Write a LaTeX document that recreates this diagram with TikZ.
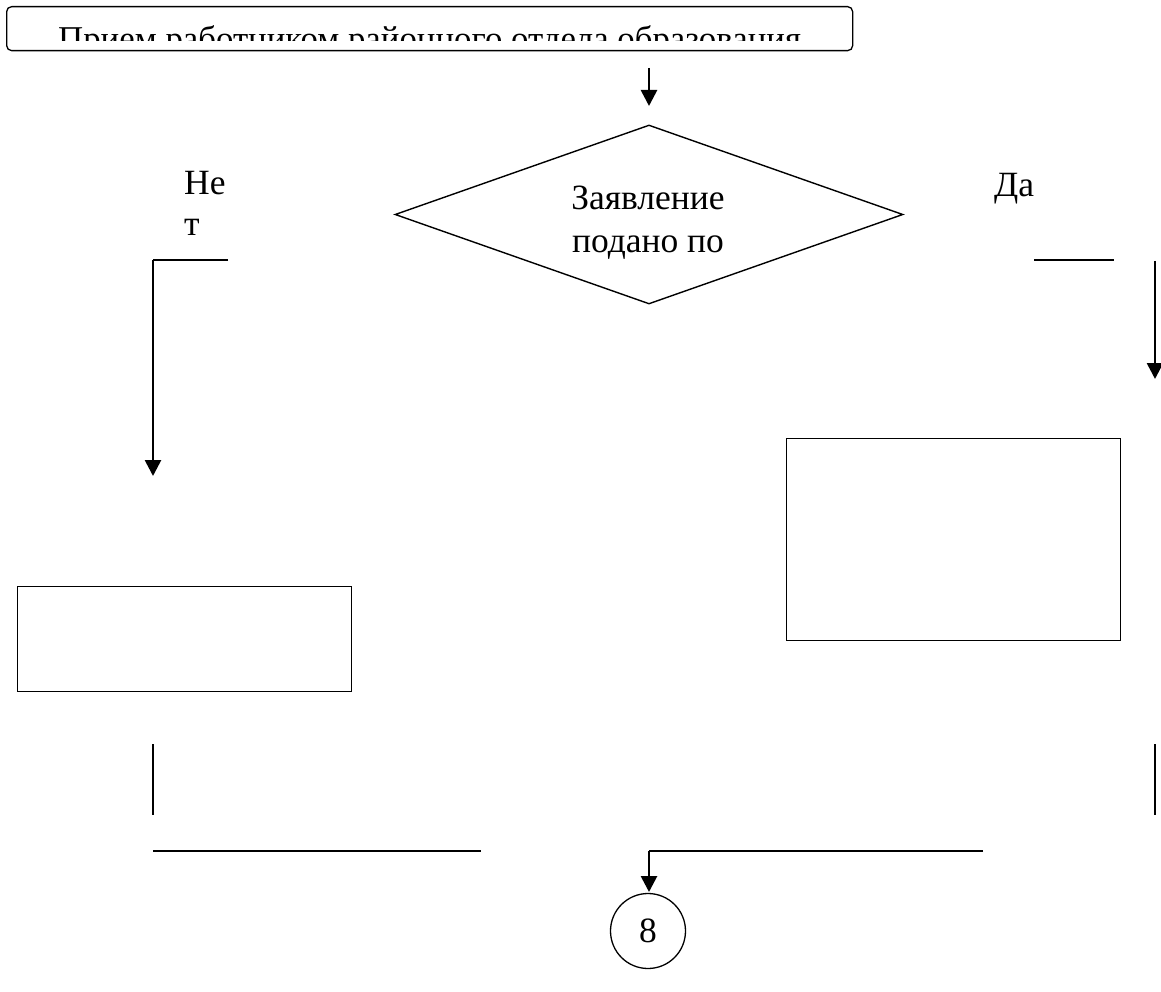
\documentclass[tikz,border=0pt]{standalone}
\usepackage{fontspec}
\setmainfont{Liberation Serif}
\usetikzlibrary{shapes.geometric,arrows.meta}
\begin{document}
\begin{tikzpicture}[x=1pt,y=-1pt,
  thin line/.style={line width=1.3pt},
  arrowline/.style={line width=2.7pt,-{Triangle[width=16pt,length=16pt]}},
  boxnode/.style={draw,line width=1.3pt,inner sep=0pt},
  lbl/.style={inner sep=0pt,font=\fontsize{35.5}{43}\selectfont},
  every node/.style={font=\fontsize{35.5}{43}\selectfont}]
\useasboundingbox (0,0) rectangle (1161,992);
% top box with clipped text
\node[boxnode,rounded corners=5pt,minimum width=846pt,minimum height=44pt,anchor=north west]
  (top) at (6,6) {};
\begin{scope}
  \clip (top.north west) rectangle ([yshift=11pt]top.south east);
  \node[lbl,font=\fontsize{34.8}{43}\selectfont,anchor=base west] (toptext) at (58,51) {Прием работником районного отдела образования};
\end{scope}
% decision diamond
\node[draw,line width=1.4pt,diamond,minimum width=508pt,minimum height=179pt,inner sep=0pt] (dec) at (649,214.5) {};
\node[lbl,align=center,anchor=base] (dectext) at (648,252) {Заявление\\подано по};
% labels
\node[lbl,anchor=base west] (ne1) at (184,195) {Не};
\node[lbl,anchor=base west] (ne2) at (184,236) {т};
\node[lbl,anchor=base west] (da) at (994,197) {Да};
% boxes
\node[boxnode,minimum width=334pt,minimum height=202pt,anchor=north west] (rbox) at (786,438) {};
\node[boxnode,minimum width=334pt,minimum height=105pt,anchor=north west] (lbox) at (17,586) {};
% circle
\node[draw,circle,line width=1.3pt,minimum size=75pt,inner sep=0pt] (c8) at (648,931) {8};
% coordinates
\coordinate (a0) at (649,68);
\coordinate (a1) at (649,106);
\coordinate (l0) at (228,260);
\coordinate (l1) at (153,260);
\coordinate (l2) at (153,476);
\coordinate (r0) at (1034,260);
\coordinate (r1) at (1114,260);
\coordinate (r2) at (1155,261);
\coordinate (r3) at (1155,379);
\coordinate (v1a) at (153,744);
\coordinate (v1b) at (153,815);
\coordinate (v2a) at (1155,744);
\coordinate (v2b) at (1155,815);
\coordinate (h1a) at (153,851);
\coordinate (h1b) at (481,851);
\coordinate (h2a) at (983,851);
\coordinate (h2b) at (649,851);
\coordinate (h2c) at (649,892);
% connectors
\draw[arrowline] (a0) -- (a1);
\draw[thin line] (l0) -- (l1);
\draw[arrowline] (l1) -- (l2);
\draw[thin line] (r0) -- (r1);
\draw[arrowline] (r2) -- (r3);
\draw[thin line] (v1a) -- (v1b);
\draw[thin line] (v2a) -- (v2b);
\draw[thin line] (h1a) -- (h1b);
\draw[thin line] (h2a) -- (h2b);
\draw[arrowline] (h2b) -- (h2c);
\end{tikzpicture}
\end{document}
